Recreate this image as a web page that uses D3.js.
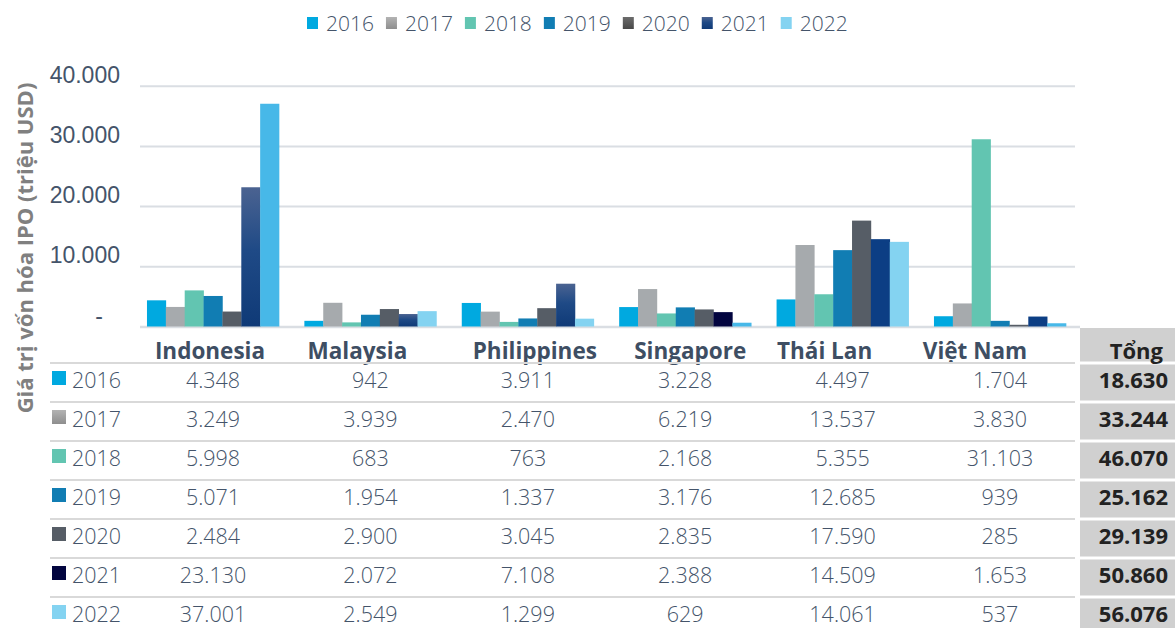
<!DOCTYPE html>
<html>
<head>
<meta charset="utf-8">
<script src="https://cdn.jsdelivr.net/npm/d3@7"></script>
<style>
  html, body { margin: 0; padding: 0; background: #ffffff; }
  svg { display: block; font-family: "Open Sans", "Noto Sans", sans-serif; }
</style>
</head>
<body>
<svg id="chart" width="1175" height="628"></svg>
<script>
// ---------------- DATA ----------------
const categories = ["Indonesia", "Malaysia", "Philippines", "Singapore", "Thái Lan", "Việt Nam"];
const years = ["2016", "2017", "2018", "2019", "2020", "2021", "2022"];
const v2016 = [4348, 942, 3911, 3228, 4497, 1704];
const v2017 = [3249, 3939, 2470, 6219, 13537, 3830];
const v2018 = [5998, 683, 763, 2168, 5355, 31103];
const v2019 = [5071, 1954, 1337, 3176, 12685, 939];
const v2020 = [2484, 2900, 3045, 2835, 17590, 285];
const v2021 = [23130, 2072, 7108, 2388, 14509, 1653];
const v2022 = [37001, 2549, 1299, 629, 14061, 537];
const yTicks = [0, 10000, 20000, 30000, 40000];
const yTitle = "Giá trị vốn hóa IPO (triệu USD)";
const totalHeader = "Tổng";

const seriesValues = [v2016, v2017, v2018, v2019, v2020, v2021, v2022];

// ---------------- STYLE ----------------
const yearColors = ["#00a9e0", "#a6aaad", "#62c5b1", "#117db3", "#565d66", "url(#navyGrad)", "#84d3f1"];
const color2021 = ["url(#navyGrad)", "url(#navyGrad)", "url(#navyGrad)", "#02053f", "#0c3e84", "#0c3e84"];
const color2022 = ["#47b8e8", "#84d3f1", "#84d3f1", "#47b8e8", "#84d3f1", "#47b8e8"];
const legendColors = ["#00a9e0", "url(#grayGrad)", "#62c5b1", "#117db3", "url(#darkGrad)", "url(#navyGrad)", "#84d3f1"];
const tableSwatch = ["#00a9e0", "url(#grayGrad)", "#62c5b1", "#117db3", "#565d66", "#02053f", "#84d3f1"];

const textColor = "#44546a";
const gridColor = "#dadee3";

const loc = d3.formatLocale({ decimal: ",", thousands: ".", grouping: [3], currency: ["", ""] });
const fmt = loc.format(",d");

const svg = d3.select("#chart");

const defs = svg.append("defs");
function grad(id, stops) {
  const g = defs.append("linearGradient").attr("id", id)
    .attr("x1", 0).attr("y1", 0).attr("x2", 0).attr("y2", 1);
  stops.forEach(s => g.append("stop").attr("offset", s[0]).attr("stop-color", s[1]));
}
grad("navyGrad", [[0, "#4b6391"], [0.45, "#1f4a86"], [1, "#0f3a77"]]);
grad("grayGrad", [[0, "#b3b3b3"], [1, "#8e8e8e"]]);
grad("darkGrad", [[0, "#6c6c6c"], [1, "#484848"]]);

// ---------------- SCALES ----------------
const plotLeft = 138, plotRight = 1075;
const x0 = d3.scaleBand().domain(categories).range([plotLeft, plotRight])
  .paddingInner(0.161).paddingOuter(0.057);
const x1 = d3.scaleBand().domain(years).range([0, x0.bandwidth()]).padding(0);
const y = d3.scaleLinear().domain([0, 40000]).range([326.5, 85.7]);

// ---------------- GRID + Y AXIS ----------------
const yAxis = d3.axisLeft(y).tickValues(yTicks)
  .tickSize(-(plotRight - 140)).tickPadding(20)
  .tickFormat(d => d === 0 ? "-" : fmt(d));
const gAxis = svg.append("g").attr("transform", "translate(140,0)").call(yAxis);
gAxis.select(".domain").remove();
gAxis.selectAll(".tick line").attr("stroke", gridColor).attr("stroke-width", 2);
gAxis.selectAll(".tick text")
  .attr("fill", textColor).attr("font-size", 23).attr("font-weight", 300)
  .attr("dy", "-0.15em")
  .attr("dx", d => d === 0 ? -17 : 0);
gAxis.selectAll(".tick").filter(d => d === 0).select("line")
  .attr("x2", plotRight + 5 - 140).attr("stroke-width", 2.5);

// y title
svg.append("text")
  .attr("transform", "translate(33,248) rotate(-90)")
  .attr("text-anchor", "middle")
  .attr("font-size", 22).attr("font-weight", 700).attr("fill", "#808080")
  .text(yTitle);

// ---------------- BARS ----------------
const barData = [];
categories.forEach((c, ci) => {
  years.forEach((yr, yi) => {
    let fill = yearColors[yi];
    if (yi === 5) fill = color2021[ci];
    if (yi === 6) fill = color2022[ci];
    barData.push({ c, ci, yr, v: seriesValues[yi][ci], fill });
  });
});
svg.append("g").selectAll("rect").data(barData).join("rect")
  .attr("x", d => x0(d.c) + x1(d.yr))
  .attr("y", d => y(d.v))
  .attr("width", x1.bandwidth() + 0.3)
  .attr("height", d => y(0) - y(d.v))
  .attr("fill", d => d.fill);

// ---------------- LEGEND ----------------
const legend = svg.append("g");
let lx = 307;
years.forEach((yr, i) => {
  legend.append("rect").attr("x", lx).attr("y", 17).attr("width", 11).attr("height", 12)
    .attr("fill", legendColors[i]);
  const t = legend.append("text").attr("x", lx + 19).attr("y", 31)
    .attr("font-size", 21).attr("font-weight", 300).attr("fill", textColor).text(yr);
  const w = t.node().getComputedTextLength();
  lx += 19 + w + 12;
});

// ---------------- TABLE ----------------
const headerY = 328, headerLine = 363, rowH = 39;
const tableLeft = 50;
const totalLeft = 1080, totalRight = 1175;

const headerShift = [-3, -13, 7, 5, -18, -25];
svg.append("g").selectAll("text").data(categories).join("text")
  .attr("x", (d, i) => x0(d) + x0.bandwidth() / 2 + headerShift[i])
  .attr("y", 359)
  .attr("text-anchor", "middle")
  .attr("font-size", 22.5).attr("font-weight", 700).attr("fill", "#3e4e63")
  .text(d => d);

svg.append("rect").attr("x", totalLeft).attr("y", headerY)
  .attr("width", totalRight - totalLeft).attr("height", headerLine - headerY - 1.5)
  .attr("fill", "#d0d0d0");
svg.append("text").attr("x", 1163).attr("y", 359).attr("text-anchor", "end")
  .attr("font-size", 22).attr("font-weight", 700).attr("fill", "#222222").text(totalHeader);

const lineYs = d3.range(years.length).map(i => headerLine + i * rowH);
svg.append("g").selectAll("line").data(lineYs).join("line")
  .attr("x1", tableLeft).attr("x2", plotRight)
  .attr("y1", d => d).attr("y2", d => d)
  .attr("stroke", "#d9d9d9").attr("stroke-width", 2);

const rows = svg.append("g").selectAll("g").data(years).join("g")
  .attr("transform", (d, i) => `translate(0,${headerLine + i * rowH})`);

rows.append("rect").attr("x", totalLeft).attr("y", 1.5)
  .attr("width", totalRight - totalLeft).attr("height", rowH - 3)
  .attr("fill", "#d0d0d0");

rows.append("rect").attr("x", 52).attr("y", 8).attr("width", 14).attr("height", 14)
  .attr("fill", (d, i) => tableSwatch[i]);
rows.append("text").attr("x", 72).attr("y", 25)
  .attr("font-size", 21.5).attr("font-weight", 300).attr("fill", textColor)
  .text(d => d);

rows.each(function (yr, yi) {
  const g = d3.select(this);
  g.selectAll("text.val").data(seriesValues[yi]).join("text")
    .attr("class", "val")
    .attr("x", (d, ci) => x0(categories[ci]) + x0.bandwidth() / 2)
    .attr("y", 25)
    .attr("text-anchor", "middle")
    .attr("font-size", 21.5).attr("font-weight", 300).attr("fill", textColor)
    .text(d => fmt(d));
  g.append("text").attr("x", 1168).attr("y", 25).attr("text-anchor", "end")
    .attr("font-size", 22).attr("font-weight", 700).attr("fill", "#222222")
    .text(fmt(d3.sum(seriesValues[yi])));
});
</script>
</body>
</html>
